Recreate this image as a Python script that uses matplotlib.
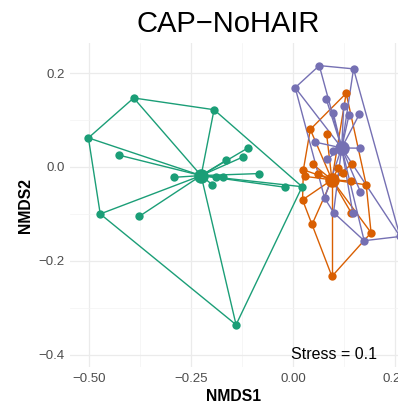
import numpy as np
import matplotlib
matplotlib.use("Agg")
import matplotlib.pyplot as plt
from matplotlib.ticker import MultipleLocator

plt.rcParams['font.family'] = ['Liberation Sans', 'DejaVu Sans']

# --- NMDS scores per group ---
green_x = [-0.391, -0.194, -0.502, -0.426, -0.110, -0.165, -0.124, -0.293, -0.190,
           -0.171, -0.198, -0.083, -0.021, 0.022, -0.473, -0.377, -0.140]
green_y = [0.147, 0.122, 0.062, 0.025, 0.041, 0.014, 0.021, -0.022, -0.021,
           -0.022, -0.038, -0.014, -0.043, -0.042, -0.100, -0.105, -0.336]

orange_x = [0.130, 0.042, 0.082, 0.048, 0.025, 0.029, 0.061, 0.111, 0.144,
            0.123, 0.143, 0.179, 0.023, 0.142, 0.047, 0.191, 0.095]
orange_y = [0.157, 0.080, 0.070, 0.006, -0.006, -0.020, -0.014, -0.002, 0.006,
            -0.012, -0.030, -0.038, -0.070, -0.097, -0.121, -0.140, -0.233]

purple_x = [0.064, 0.148, 0.005, 0.081, 0.124, 0.098, 0.137, 0.162, 0.054,
            0.098, 0.164, 0.083, 0.165, 0.077, 0.099, 0.146, 0.174, 0.262]
purple_y = [0.216, 0.209, 0.169, 0.145, 0.130, 0.116, 0.111, 0.112, 0.053,
            0.033, 0.040, 0.016, -0.053, -0.066, -0.097, -0.097, -0.157, -0.148]

groups = [
    (green_x, green_y, '#1B9E77'),
    (orange_x, orange_y, '#D95F02'),
    (purple_x, purple_y, '#7570B3'),
]

stress = 0.1


def convex_hull(pts):
    """Monotone chain hull, returns closed list of vertices."""
    pts = sorted(set(pts))
    if len(pts) < 3:
        return pts

    def cross(o, a, b):
        return (a[0] - o[0]) * (b[1] - o[1]) - (a[1] - o[1]) * (b[0] - o[0])

    lower = []
    for p in pts:
        while len(lower) >= 2 and cross(lower[-2], lower[-1], p) <= 0:
            lower.pop()
        lower.append(p)
    upper = []
    for p in reversed(pts):
        while len(upper) >= 2 and cross(upper[-2], upper[-1], p) <= 0:
            upper.pop()
        upper.append(p)
    hull = lower[:-1] + upper[:-1]
    return hull + [hull[0]]


fig = plt.figure(figsize=(3.98, 4.08), dpi=100)
ax = fig.add_axes([0.176, 0.1005, 0.824, 0.794])

for xs, ys, col in groups:
    xs = np.array(xs)
    ys = np.array(ys)
    cx, cy = xs.mean(), ys.mean()

    # spider lines from the group centroid
    for px, py in zip(xs, ys):
        ax.plot([cx, px], [cy, py], color=col, lw=1.0, zorder=2)

    hull = convex_hull(list(zip(xs, ys)))
    hx, hy = zip(*hull)
    ax.plot(hx, hy, color=col, lw=1.0, zorder=2)

    ax.scatter(xs, ys, s=36, color=col, zorder=3, linewidths=0)
    ax.scatter([cx], [cy], s=110, color=col, zorder=4, linewidths=0)

ax.text(0.1, -0.40, f"Stress = {stress}", fontsize=11.5, ha='center', va='center',
        color='black')

ax.set_xlim(-0.547, 0.257)
ax.set_ylim(-0.426, 0.264)

ax.xaxis.set_major_locator(MultipleLocator(0.25))
ax.xaxis.set_minor_locator(MultipleLocator(0.125))
ax.yaxis.set_major_locator(MultipleLocator(0.2))
ax.yaxis.set_minor_locator(MultipleLocator(0.1))
ax.xaxis.set_major_formatter(plt.FuncFormatter(lambda v, p: f"{v:.2f}".replace('-', '\u2212')))
ax.yaxis.set_major_formatter(plt.FuncFormatter(lambda v, p: f"{v:.1f}".replace('-', '\u2212')))

ax.grid(which='major', color='#EBEBEB', lw=0.9, zorder=0)
ax.grid(which='minor', color='#F3F3F3', lw=0.5, zorder=0)
ax.set_axisbelow(True)
for s in ax.spines.values():
    s.set_visible(False)
ax.tick_params(which='both', length=0, labelsize=9.5, labelcolor='#4D4D4D', pad=4)

ax.set_xlabel('NMDS1', fontsize=11.3, fontweight='bold', labelpad=3)
ax.set_ylabel('NMDS2', fontsize=11.3, fontweight='bold', labelpad=4)
fig.text(0.573, 0.94, 'CAP\u2212NoHAIR', fontsize=21, ha='center', va='center')

fig.savefig('out.png', dpi=100)
